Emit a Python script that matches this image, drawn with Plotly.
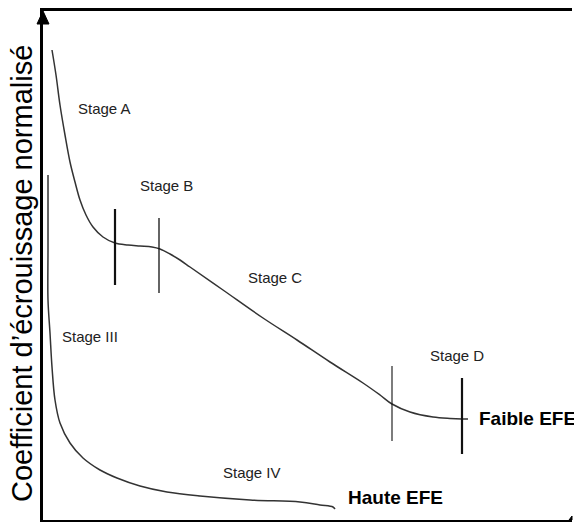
import plotly.graph_objects as go

# schematic curves, arbitrary units (x: strain, y: normalised hardening coefficient)
faible_x = [9, 13, 17, 22, 27, 32, 37, 43, 50, 60, 72, 85, 97, 109, 117, 127, 137, 147,
            180, 220, 254, 287, 320, 337, 349, 367, 390, 407, 419, 425]
faible_y = [470, 445, 415, 385, 358, 338, 320, 305, 293, 283, 277, 275, 274, 273, 271, 266, 260, 253,
            230, 202, 180, 158, 137, 125, 116, 108, 103, 101.5, 101, 101]

haute_x = [5, 5, 5, 7, 9, 12, 17, 27, 40, 57, 74, 97, 124, 157, 207, 257, 277, 290, 292]
haute_y = [345, 270, 220, 187, 153, 120, 97, 77, 62, 50, 42, 34, 28, 24, 20, 18, 15, 13, 11]

# stage boundaries (vertical markers)
bound_x = [72, 116, 349, 419]
bound_lo = [235, 227, 79, 66]
bound_hi = [311, 302, 154, 142]
bound_w = [2.2, 1.3, 1.1, 2.2]

stage_labels = ['Stage A', 'Stage B', 'Stage C', 'Stage D', 'Stage III', 'Stage IV']
stage_x = [61, 123, 232, 414, 47, 209]
stage_y = [412, 335, 243, 165, 184, 48]

ytitle = 'Coefficient d’écrouissage normalisé'

fig = go.Figure()
fig.add_trace(go.Scatter(x=faible_x, y=faible_y, mode='lines',
                         line=dict(color='#333', width=1.5, shape='spline', smoothing=1.0)))
fig.add_trace(go.Scatter(x=haute_x, y=haute_y, mode='lines',
                         line=dict(color='#333', width=1.5, shape='spline', smoothing=1.0)))
for bx, lo, hi, w in zip(bound_x, bound_lo, bound_hi, bound_w):
    fig.add_trace(go.Scatter(x=[bx, bx], y=[lo, hi], mode='lines',
                             line=dict(color='#111', width=w)))

for txt, sx, sy in zip(stage_labels, stage_x, stage_y):
    fig.add_annotation(x=sx, y=sy, text=txt, showarrow=False,
                       font=dict(family='Liberation Sans, Arial', size=15, color='#222'))

fig.add_annotation(x=434, y=102, text='<b>Faible EFE</b>', showarrow=False, xanchor='left',
                   font=dict(family='Liberation Sans, Arial', size=19, color='#000'))
fig.add_annotation(x=303, y=23, text='<b>Haute EFE</b>', showarrow=False, xanchor='left',
                   font=dict(family='Liberation Sans, Arial', size=19, color='#000'))

fig.add_annotation(xref='paper', yref='paper', x=-0.04, y=0.485, text=ytitle, textangle=-90,
                   showarrow=False, xanchor='center', yanchor='middle',
                   font=dict(family='Liberation Sans, Arial', size=29, color='#000'))

# arrow heads on the axes
fig.add_shape(type='path', xref='paper', yref='paper', xsizemode='pixel', ysizemode='pixel',
              xanchor=0, yanchor=1, path='M -6,-13 L 0,0 L 6,-13 Z',
              fillcolor='black', line=dict(color='black', width=1))
fig.add_shape(type='path', xref='paper', yref='paper', xsizemode='pixel', ysizemode='pixel',
              xanchor=1, yanchor=0, path='M -3,0 L 0,0 L 0,4 Z',
              fillcolor='black', line=dict(color='black', width=1))

fig.update_layout(
    width=574, height=522,
    margin=dict(l=43, r=2, t=11, b=2),
    plot_bgcolor='white', paper_bgcolor='white',
    showlegend=False,
    xaxis=dict(range=[0, 529], showgrid=False, zeroline=False, showticklabels=False,
               ticks='', showline=True, linecolor='black', linewidth=3, mirror=True),
    yaxis=dict(range=[0, 509], showgrid=False, zeroline=False, showticklabels=False,
               ticks='', showline=True, linecolor='black', linewidth=3),
)

fig.write_html('out.html', config={'displayModeBar': False},
               post_script="document.body.style.margin='0';")
